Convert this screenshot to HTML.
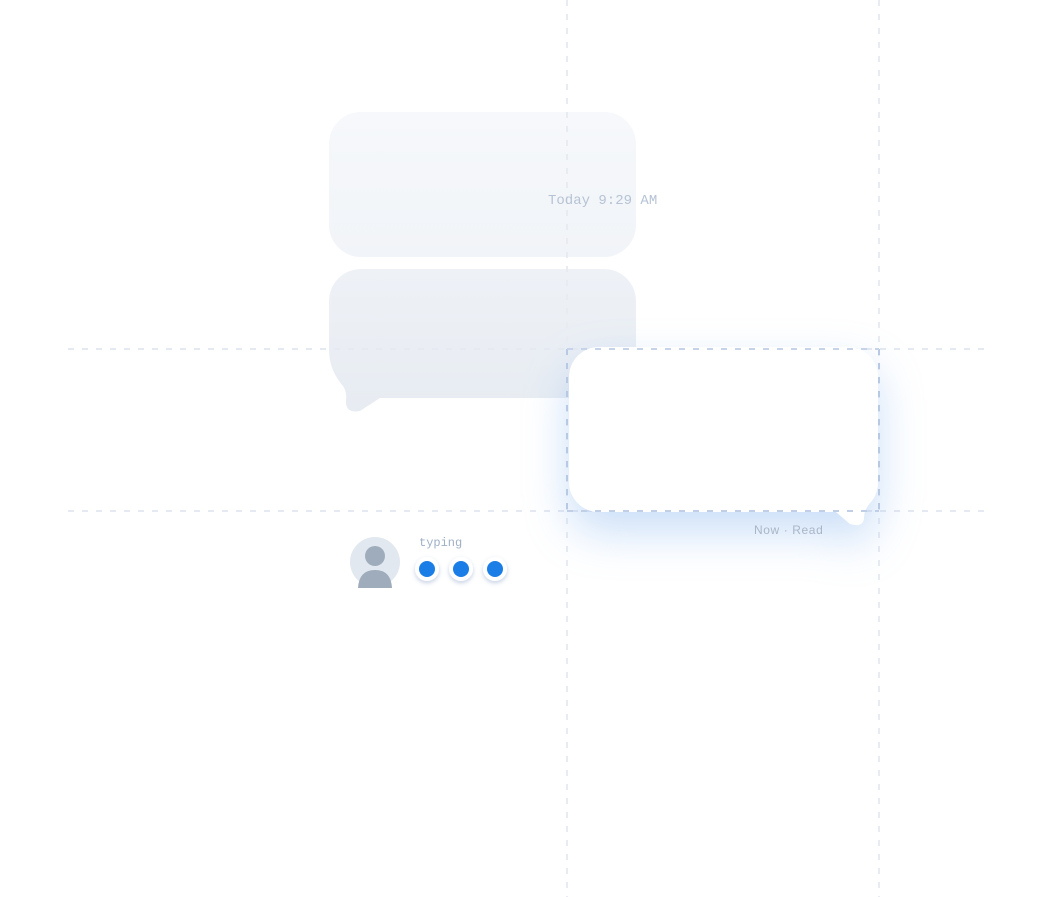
<!DOCTYPE html>
<html><head><meta charset="utf-8"><style>
html,body{margin:0;padding:0;background:#fff;}
body{width:1050px;height:897px;position:relative;overflow:hidden;font-family:"Liberation Sans",sans-serif;}
</style></head><body>
<svg width="1050" height="897" viewBox="0 0 1050 897" xmlns="http://www.w3.org/2000/svg" style="position:absolute;left:0;top:0">
<defs>
<linearGradient id="g1" x1="0" y1="0" x2="0" y2="1"><stop offset="0" stop-color="#f6f8fb"/><stop offset="1" stop-color="#f1f4f8"/></linearGradient>
<linearGradient id="g2" x1="0" y1="0" x2="0" y2="1"><stop offset="0" stop-color="#eef1f6"/><stop offset="1" stop-color="#e7ecf2"/></linearGradient>
<filter id="glow" x="-40%" y="-40%" width="180%" height="220%"><feDropShadow dx="0" dy="20" stdDeviation="22" flood-color="#8ab6f0" flood-opacity="0.45"/></filter>
<filter id="ds" x="-50%" y="-50%" width="200%" height="200%"><feDropShadow dx="0" dy="2" stdDeviation="2" flood-color="#5a7fb0" flood-opacity="0.35"/></filter>
</defs>
<rect x="329" y="112" width="307" height="145" rx="32" fill="url(#g1)"/>
<path d="M361 269 H604 A32 32 0 0 1 636 301 V398 H380 L360 411 Q345 414 346 400 Q347 392 343 386 Q329 370 329 350 V301 A32 32 0 0 1 361 269 Z" fill="url(#g2)"/>
<g stroke-width="2" stroke-dasharray="6 8" fill="none">
<line x1="567" y1="0" x2="567" y2="897" stroke="#e8ecf2"/>
<line x1="879" y1="0" x2="879" y2="897" stroke="#e8ecf2"/>
<line x1="68" y1="349" x2="988" y2="349" stroke="#e5e9f1"/>
<line x1="68" y1="511" x2="988" y2="511" stroke="#e5e9f1"/>
</g>
<path d="M599 347 H848 A30 30 0 0 1 878 377 V481 Q878 495 870 503 Q864 510 864 517 Q864 528 850 524 L836 512 H599 A30 30 0 0 1 569 482 V377 A30 30 0 0 1 599 347 Z" fill="#fff" filter="url(#glow)"/>
<g stroke-width="2" stroke-dasharray="6 8" fill="none">
<line x1="567" y1="349" x2="567" y2="511" stroke="#b8c9e4"/>
<line x1="879" y1="349" x2="879" y2="511" stroke="#b8c9e4"/>
<line x1="567" y1="349" x2="879" y2="349" stroke="#c6d3e8"/>
<line x1="567" y1="511" x2="879" y2="511" stroke="#c0cfe6"/>
</g>
<circle cx="375" cy="562" r="25" fill="#e2e8f0"/>
<circle cx="375" cy="556" r="10" fill="#9eacbc"/>
<path d="M358 588 Q359 570 375 570 Q391 570 392 588 Z" fill="#9eacbc"/>
<g filter="url(#ds)">
<circle cx="427" cy="569" r="12" fill="#fff"/><circle cx="461" cy="569" r="12" fill="#fff"/><circle cx="495" cy="569" r="12" fill="#fff"/>
</g>
<circle cx="427" cy="569" r="8" fill="#1a7ee6"/><circle cx="461" cy="569" r="8" fill="#1a7ee6"/><circle cx="495" cy="569" r="8" fill="#1a7ee6"/>
<text x="548" y="204" font-family="Liberation Mono, monospace" font-size="14" fill="#b6c3d4">Today 9:29 AM</text>
<text x="419" y="546" font-family="Liberation Mono, monospace" font-size="12" fill="#9fb0c6">typing</text>
<text x="754" y="534" font-family="Liberation Sans, sans-serif" font-size="12" letter-spacing="0.6" fill="#a9b6c7">Now · Read</text>
</svg>
</body></html>
